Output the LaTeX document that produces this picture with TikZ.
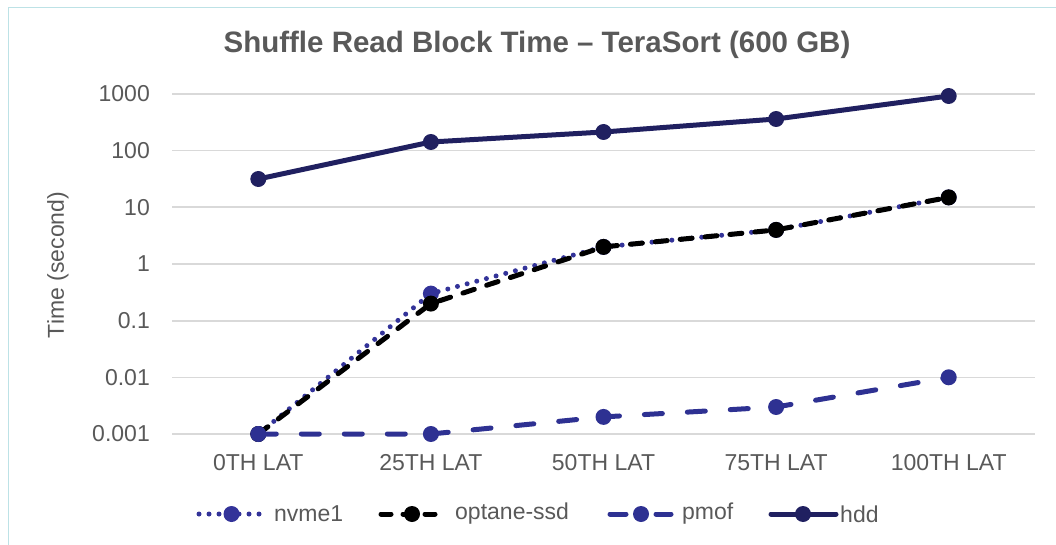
\documentclass[tikz,border=0pt]{standalone}
\usepackage{fontspec}
\setmainfont{Liberation Sans}
\definecolor{txt}{HTML}{595959}
\definecolor{gridc}{HTML}{D9D9D9}
\definecolor{framec}{HTML}{BDE2E6}
\definecolor{nvmec}{RGB}{51,51,153}
\definecolor{pmofc}{RGB}{46,49,146}
\definecolor{hddc}{RGB}{32,32,96}
\begin{document}
\begin{tikzpicture}[x=1pt,y=-1pt,
  lbl/.style={text=txt, font=\fontsize{23}{26}\selectfont, inner sep=0pt},
  gridline/.style={draw=gridc, line width=1.6pt},
  mk/.style={circle, inner sep=0pt, minimum size=16pt, fill=#1},
  nvmeline/.style={draw=nvmec, line width=5pt, line cap=round, dash pattern=on 0pt off 10pt},
  optaneline/.style={draw=black, line width=5pt, line cap=round, dash pattern=on 12pt off 13pt},
  pmofline/.style={draw=pmofc, line width=5pt, line cap=round, dash pattern=on 18pt off 25pt},
  hddline/.style={draw=hddc, line width=5pt, line cap=round}]
\useasboundingbox (0,0) rectangle (1056,545);
% chart frame
\draw[framec, line width=1.5pt] (8.5,560) -- (8.5,7.5) -- (1070,7.5);
% title
\node[text=txt, font=\fontsize{29.5}{32}\selectfont\bfseries, inner sep=0pt] (title) at (537,45) {Shuffle Read Block Time – TeraSort (600 GB)};
% horizontal grid and value labels (log scale)
\foreach \v/\y [count=\i] in {1000/94, 100/150.7, 10/207.3, 1/264, 0.1/320.7, 0.01/377.3, 0.001/434} {
  \coordinate (gl\i) at (172,\y);
  \coordinate (gr\i) at (1035,\y);
  \draw[gridline] (gl\i) -- (gr\i);
  \node[lbl, anchor=east] (yt\i) at (150,\y) {\v};
}
% axis title
\node[lbl, rotate=90] (ytitle) at (58,265) {Time (second)};
% category labels
\foreach \c/\x [count=\i] in {0TH LAT/258.3, 25TH LAT/430.9, 50TH LAT/603.5, 75TH LAT/776.1, 100TH LAT/948.7} {
  \node[lbl] (xt\i) at (\x,463) {\c};
}
% data points
\foreach \y [count=\i] in {434, 293.6, 246.9, 229.9, 197.4} {
  \pgfmathsetmacro\xx{258.3+172.6*(\i-1)}
  \coordinate (n\i) at (\xx,\y);
}
\foreach \y [count=\i] in {434, 303.6, 246.9, 229.9, 197.4} {
  \pgfmathsetmacro\xx{258.3+172.6*(\i-1)}
  \coordinate (o\i) at (\xx,\y);
}
\foreach \y [count=\i] in {434, 434, 416.9, 407.0, 377.3} {
  \pgfmathsetmacro\xx{258.3+172.6*(\i-1)}
  \coordinate (p\i) at (\xx,\y);
}
\foreach \y [count=\i] in {179, 142, 132, 119, 96} {
  \pgfmathsetmacro\xx{258.3+172.6*(\i-1)}
  \coordinate (h\i) at (\xx,\y);
}
% series: nvme1
\draw[nvmeline] (n1) -- (n2) -- (n3) -- (n4) -- (n5);
\foreach \i in {1,...,5} \node[mk=nvmec] (nm\i) at (n\i) {};
% series: optane-ssd
\draw[optaneline] (o1) -- (o2) -- (o3) -- (o4) -- (o5);
\foreach \i in {1,...,5} \node[mk=black] (om\i) at (o\i) {};
% series: pmof
\draw[pmofline] (p1) -- (p2) -- (p3) -- (p4) -- (p5);
\foreach \i in {1,...,5} \node[mk=pmofc] (pm\i) at (p\i) {};
% series: hdd
\draw[hddline] (h1) -- (h2) -- (h3) -- (h4) -- (h5);
\foreach \i in {1,...,5} \node[mk=hddc] (hm\i) at (h\i) {};
% legend
\coordinate (la1) at (199,514); \coordinate (lb1) at (264,514);
\draw[nvmeline] (la1) -- (lb1);
\node[mk=nvmec] (lm1) at (231.5,514) {};
\node[lbl, anchor=west] (lt1) at (274,514) {nvme1};
\coordinate (la2) at (381,514); \coordinate (lb2) at (444,514);
\draw[optaneline, dash pattern=on 10pt off 12pt] (la2) -- (lb2);
\node[mk=black] (lm2) at (412,514) {};
\node[lbl, anchor=west] (lt2) at (455,514) {optane-ssd};
\coordinate (la3) at (610,514); \coordinate (lb3) at (671,514);
\draw[pmofline, dash pattern=on 16pt off 30pt] (la3) -- (lb3);
\node[mk=pmofc] (lm3) at (641,514) {};
\node[lbl, anchor=west] (lt3) at (682,514) {pmof};
\coordinate (la4) at (771,514); \coordinate (lb4) at (836,514);
\draw[hddline] (la4) -- (lb4);
\node[mk=hddc] (lm4) at (803,514) {};
\node[lbl, anchor=west] (lt4) at (840,514) {hdd};
\end{tikzpicture}
\end{document}
